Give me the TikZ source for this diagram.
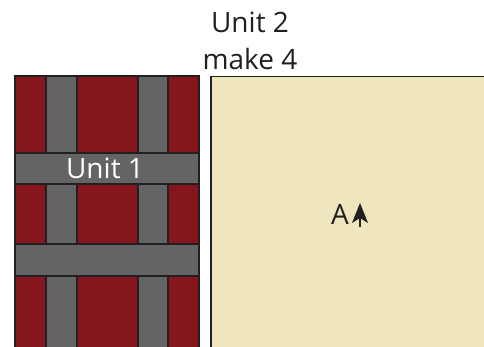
\documentclass[tikz,border=0pt]{standalone}
\usepackage{fontspec}
\setmainfont{Open Sans}
\usetikzlibrary{arrows.meta}
\definecolor{quiltred}{HTML}{86161D}
\definecolor{quiltgray}{HTML}{636466}
\definecolor{quiltbeige}{HTML}{F0E6BE}
\definecolor{quiltline}{HTML}{231F20}
\tikzset{
  piece/.style={draw=quiltline, line width=1.2pt},
  redpiece/.style={piece, fill=quiltred},
  graypiece/.style={piece, fill=quiltgray},
  beigepiece/.style={piece, fill=quiltbeige},
  label/.style={font=\fontsize{28}{30}\selectfont, text=quiltline, anchor=base, inner sep=0pt},
}
\begin{document}
\begin{tikzpicture}[x=1pt,y=-1pt]
\useasboundingbox (0,0) rectangle (484,347);
% Unit 1 block
\begin{scope}
\clip (0,0) rectangle (484,347);
\draw[redpiece] (15,76) rectangle (199,360);
\draw[graypiece] (46,76) rectangle (77,360);
\draw[graypiece] (138,76) rectangle (168,360);
\draw[graypiece] (15,153) rectangle (199,184);
\draw[graypiece] (15,244) rectangle (199,276);
% Unit 2 block
\draw[beigepiece] (211,76.5) rectangle (500,360);
\end{scope}
\node[label] (u2) at (250,33) {Unit 2};
\node[label] (mk) at (250,70) {make 4};
\node[label, text=white] (u1) at (105,179) {Unit 1};
\node[label] (a) at (340,225) {A};
\coordinate (arrbot) at (360,227);
\coordinate (arrtop) at (360,203);
\draw[line width=1.5pt, quiltline, -{Stealth[length=20pt,width=16pt,inset=5pt]}] (arrbot) -- (arrtop);
\end{tikzpicture}
\end{document}
